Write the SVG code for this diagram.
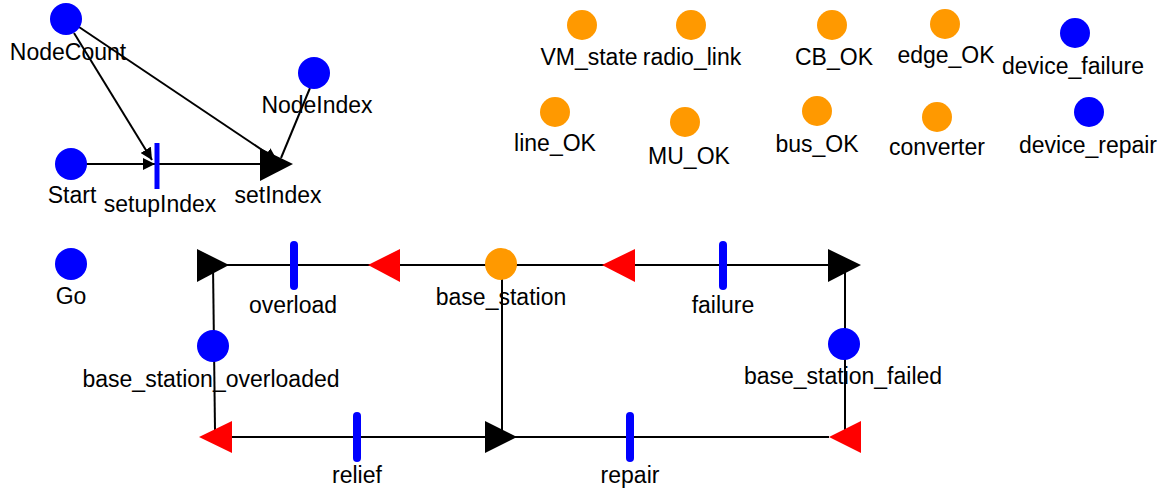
<svg xmlns="http://www.w3.org/2000/svg" width="1160" height="493" viewBox="0 0 1160 493">
<defs>
<style>
text{font-family:"Liberation Sans",Arial,sans-serif;font-size:23px;fill:#000;text-anchor:middle}
.pb{fill:#0000ff}
.po{fill:#ff9900}
.ln{stroke:#000;stroke-width:2;fill:none}
.tr{stroke:#0000ff;stroke-width:8;stroke-linecap:round}
.trs{stroke:#0000ff;stroke-width:5}
.ah{fill:#000}
.rh{fill:#ff0000}
</style>
<marker id="arr" viewBox="0 0 10 10" refX="10" refY="5" markerWidth="6" markerHeight="6" orient="auto" markerUnits="strokeWidth">
<path d="M0,0 L10,5 L0,10 z" fill="#000"/>
</marker>
</defs>
<rect width="1160" height="493" fill="#fff"/>
<g id="connectors">
<line class="ln" x1="86" y1="164" x2="155" y2="164" marker-end="url(#arr)"/>
<line class="ln" x1="159" y1="164" x2="262" y2="164"/>
<line class="ln" x1="74" y1="33" x2="152" y2="160" marker-end="url(#arr)"/>
<line class="ln" x1="79" y1="27" x2="277" y2="160" marker-end="url(#arr)"/>
<line class="ln" x1="310" y1="88" x2="281" y2="158"/>
<polygon class="ah" points="260,148 260,181 293,164"/>
<line class="ln" x1="214" y1="265" x2="828" y2="265"/>
<line class="ln" x1="213" y1="265" x2="215" y2="430"/>
<line class="ln" x1="502" y1="264" x2="502" y2="437"/>
<line class="ln" x1="845" y1="265" x2="845" y2="430"/>
<line class="ln" x1="205" y1="437" x2="829" y2="437"/>
<polygon class="ah" points="197,249 197,282 229,265"/>
<polygon class="rh" points="368,265 400,249 400,282"/>
<polygon class="rh" points="602,265 635,249 635,282"/>
<polygon class="ah" points="828,249 828,282 861,265"/>
<polygon class="rh" points="199,437 232,421 232,453"/>
<polygon class="ah" points="485,421 485,453 517,437"/>
<polygon class="rh" points="829,437 861,421 861,453"/>
</g>
<g id="NodeCount"><circle class="pb" cx="66" cy="19" r="16"/><text x="68" y="60">NodeCount</text></g>
<g id="NodeIndex"><circle class="pb" cx="314" cy="73" r="16"/><text x="317" y="113">NodeIndex</text></g>
<g id="Start"><circle class="pb" cx="71" cy="164" r="16"/><text x="72" y="203">Start</text></g>
<g id="setupIndex"><line class="trs" x1="157" y1="143" x2="157" y2="189"/><text x="160" y="212">setupIndex</text></g>
<g id="setIndex"><text x="278" y="203">setIndex</text></g>
<g id="Go"><circle class="pb" cx="71" cy="264" r="16"/><text x="71" y="304">Go</text></g>
<g id="VM_state"><circle class="po" cx="582" cy="25" r="15"/><text x="589" y="65">VM_state</text></g>
<g id="radio_link"><circle class="po" cx="691" cy="25" r="15"/><text x="692" y="65">radio_link</text></g>
<g id="CB_OK"><circle class="po" cx="832" cy="25" r="15"/><text x="834" y="65">CB_OK</text></g>
<g id="edge_OK"><circle class="po" cx="945" cy="24" r="15"/><text x="946" y="63">edge_OK</text></g>
<g id="device_failure"><circle class="pb" cx="1075" cy="33" r="15"/><text x="1073" y="74">device_failure</text></g>
<g id="line_OK"><circle class="po" cx="555" cy="112" r="15"/><text x="555" y="151">line_OK</text></g>
<g id="MU_OK"><circle class="po" cx="685" cy="122" r="15"/><text x="689" y="164">MU_OK</text></g>
<g id="bus_OK"><circle class="po" cx="817" cy="111" r="15"/><text x="817" y="152">bus_OK</text></g>
<g id="converter"><circle class="po" cx="937" cy="117" r="15"/><text x="937" y="155">converter</text></g>
<g id="device_repair"><circle class="pb" cx="1089" cy="112" r="15"/><text x="1088" y="153">device_repair</text></g>
<g id="base_station"><circle class="po" cx="501" cy="264" r="16"/><text x="501" y="305">base_station</text></g>
<g id="base_station_overloaded"><circle class="pb" cx="213" cy="346" r="16"/><text x="211" y="387">base_station_overloaded</text></g>
<g id="base_station_failed"><circle class="pb" cx="844" cy="344" r="16"/><text x="843" y="384">base_station_failed</text></g>
<g id="overload"><line class="tr" x1="294" y1="245" x2="294" y2="286"/><text x="293" y="313">overload</text></g>
<g id="failure"><line class="tr" x1="723" y1="245" x2="723" y2="286"/><text x="723" y="313">failure</text></g>
<g id="relief"><line class="tr" x1="357" y1="416" x2="357" y2="458"/><text x="357" y="483">relief</text></g>
<g id="repair"><line class="tr" x1="630" y1="416" x2="630" y2="458"/><text x="630" y="483">repair</text></g>
</svg>
